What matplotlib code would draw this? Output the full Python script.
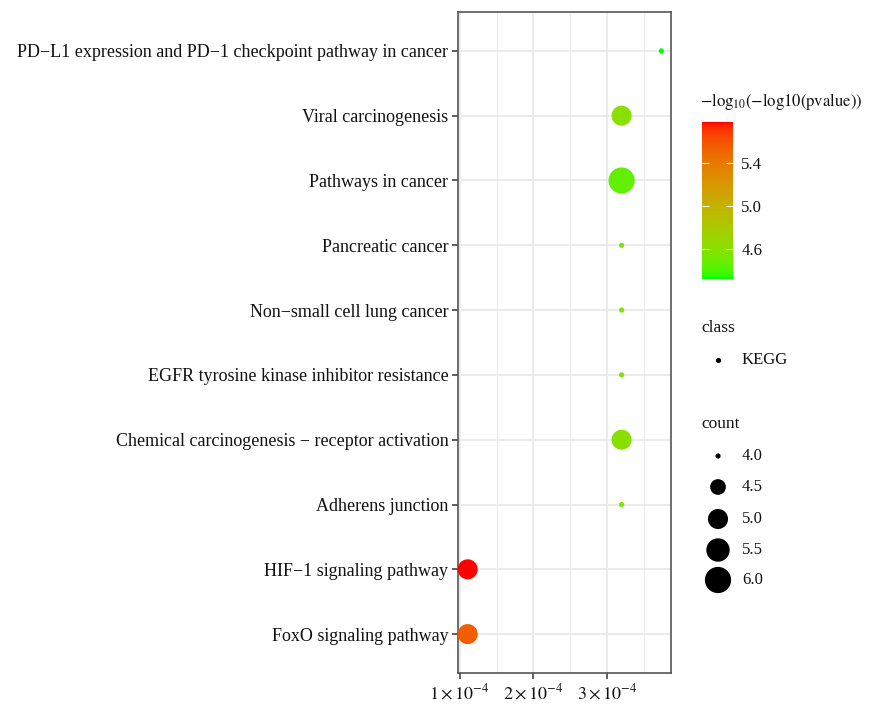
import numpy as np
import matplotlib
matplotlib.use("Agg")
import matplotlib.pyplot as plt
from matplotlib.colors import ListedColormap, Normalize
from matplotlib.cm import ScalarMappable

plt.rcParams['font.family'] = ['Liberation Serif', 'DejaVu Serif']
plt.rcParams['mathtext.fontset'] = 'stix'

# ---------------- data ----------------
terms = [
    "PD\u2212L1 expression and PD\u22121 checkpoint pathway in cancer",
    "Viral carcinogenesis",
    "Pathways in cancer",
    "Pancreatic cancer",
    "Non\u2212small cell lung cancer",
    "EGFR tyrosine kinase inhibitor resistance",
    "Chemical carcinogenesis \u2212 receptor activation",
    "Adherens junction",
    "HIF\u22121 signaling pathway",
    "FoxO signaling pathway",
]
pvalue = [3.74e-4, 3.20e-4, 3.20e-4, 3.20e-4, 3.20e-4, 3.20e-4, 3.20e-4, 3.20e-4, 1.108e-4, 1.108e-4]
count = [4, 5, 6, 4, 4, 4, 5, 4, 5, 5]
colour_val = [4.32, 4.61, 4.46, 4.56, 4.56, 4.56, 4.61, 4.56, 5.78, 5.55]
x_ticks = [1e-4, 2e-4, 3e-4]
x_tick_labels = [r'$1\times10^{-4}$', r'$2\times10^{-4}$', r'$3\times10^{-4}$']
cbar_ticks = [4.6, 5.0, 5.4]
size_breaks = [4.0, 4.5, 5.0, 5.5, 6.0]
class_label = "KEGG"

# ---------------- helpers ----------------
W, H, DPI = 874, 716, 100

def srgb_to_lab(rgb):
    rgb = np.asarray(rgb, float)
    lin = np.where(rgb <= 0.04045, rgb / 12.92, ((rgb + 0.055) / 1.055) ** 2.4)
    M = np.array([[0.4124564, 0.3575761, 0.1804375],
                  [0.2126729, 0.7151522, 0.0721750],
                  [0.0193339, 0.1191920, 0.9503041]])
    xyz = M @ lin
    wp = np.array([0.95047, 1.0, 1.08883])
    t = xyz / wp
    f = np.where(t > (6/29) ** 3, np.cbrt(t), t / (3 * (6/29) ** 2) + 4/29)
    return np.array([116 * f[1] - 16, 500 * (f[0] - f[1]), 200 * (f[1] - f[2])])

def lab_to_srgb(lab):
    L, a, b = lab
    fy = (L + 16) / 116
    fx = fy + a / 500
    fz = fy - b / 200
    f = np.array([fx, fy, fz])
    t = np.where(f > 6/29, f ** 3, 3 * (6/29) ** 2 * (f - 4/29))
    xyz = t * np.array([0.95047, 1.0, 1.08883])
    Minv = np.array([[3.2404542, -1.5371385, -0.4985314],
                     [-0.9692660, 1.8760108, 0.0415560],
                     [0.0556434, -0.2040259, 1.0572252]])
    lin = Minv @ xyz
    lin = np.clip(lin, 0, 1)
    rgb = np.where(lin <= 0.0031308, 12.92 * lin, 1.055 * lin ** (1/2.4) - 0.055)
    return np.clip(rgb, 0, 1)

lab_lo = srgb_to_lab([0, 1, 0])
lab_hi = srgb_to_lab([1, 0, 0])
cols = [lab_to_srgb(lab_lo + (lab_hi - lab_lo) * t) for t in np.linspace(0, 1, 256)]
cmap = ListedColormap(cols)
norm = Normalize(vmin=min(colour_val), vmax=max(colour_val))

def size_s(c):
    # ggplot area palette, range 1..6, limits 4..6
    sz = 1 + 5 * np.sqrt((np.asarray(c, float) - 4) / 2.0)
    d_px = 4.2 * sz + 1.0
    d_pt = d_px * 72.0 / DPI
    return d_pt ** 2

# ---------------- figure ----------------
fig = plt.figure(figsize=(W / DPI, H / DPI), dpi=DPI)

def px_rect(l, t, r, b):
    return [l / W, 1 - b / H, (r - l) / W, (b - t) / H]

TXT = '#111111'
ax = fig.add_axes(px_rect(458, 12, 671, 673))
n = len(terms)
ypos = np.arange(n)[::-1]
ax.scatter(pvalue, ypos, s=size_s(count), c=colour_val, cmap=cmap, norm=norm,
           linewidths=0, zorder=3)
xmin, xmax = min(pvalue), max(pvalue)
ex = (xmax - xmin) * 0.05
ax.set_xlim(xmin - ex, xmax + ex)
ax.set_ylim(-0.6, n - 1 + 0.6)
ax.set_yticks(ypos)
ax.set_yticklabels(terms, fontsize=13, color=TXT)
ax.set_xticks(x_ticks)
ax.set_xticklabels(x_tick_labels, fontsize=13, color=TXT)
ax.set_xticks([1.5e-4, 2.5e-4, 3.5e-4], minor=True)
ax.tick_params(axis='both', which='major', length=4, width=1.1, color='#333333', pad=3)
ax.tick_params(axis='x', which='minor', length=0)
ax.grid(True, which='major', color='#EBEBEB', lw=1.4, zorder=0)
ax.grid(True, which='minor', axis='x', color='#EBEBEB', lw=0.8, zorder=0)
ax.set_axisbelow(True)
for sp in ax.spines.values():
    sp.set_color('#555555')
    sp.set_linewidth(1.2)

# ---------------- colour bar ----------------
cax = fig.add_axes(px_rect(702, 122, 733, 279))
sm = ScalarMappable(norm=norm, cmap=cmap)
cb = fig.colorbar(sm, cax=cax)
cb.outline.set_visible(False)
cb.set_ticks(cbar_ticks)
cb.set_ticklabels([f"{t:.1f}" for t in cbar_ticks])
cax.tick_params(which='major', direction='in', length=5, width=0.8, color='white',
                left=True, right=True, labelleft=False, labelright=True,
                labelsize=12, pad=6, labelcolor=TXT)
cax.minorticks_off()
fig.text(700 / W, 1 - 102 / H, r'$-\mathrm{log}_{10}(-\mathrm{log10(pvalue)})$',
         fontsize=12, ha='left', va='center', color=TXT)

# ---------------- legends ----------------
lax = fig.add_axes([0, 0, 1, 1])
lax.set_xlim(0, W)
lax.set_ylim(H, 0)
lax.axis('off')
lax.text(701, 328, "class", fontsize=12.5, ha='left', va='center', color=TXT)
lax.scatter([718], [360], s=size_s(4), c='black', linewidths=0)
lax.text(742, 360, class_label, fontsize=12, ha='left', va='center', color=TXT)
lax.text(701, 424, "count", fontsize=12.5, ha='left', va='center', color=TXT)
ly = [456, 487, 519, 550, 580]
lax.scatter([718] * len(size_breaks), ly, s=size_s(size_breaks), c='black', linewidths=0)
for yy, b in zip(ly, size_breaks):
    lax.text(742, yy, f"{b:.1f}", fontsize=12, ha='left', va='center', color=TXT)

fig.savefig("out.png", dpi=DPI)
